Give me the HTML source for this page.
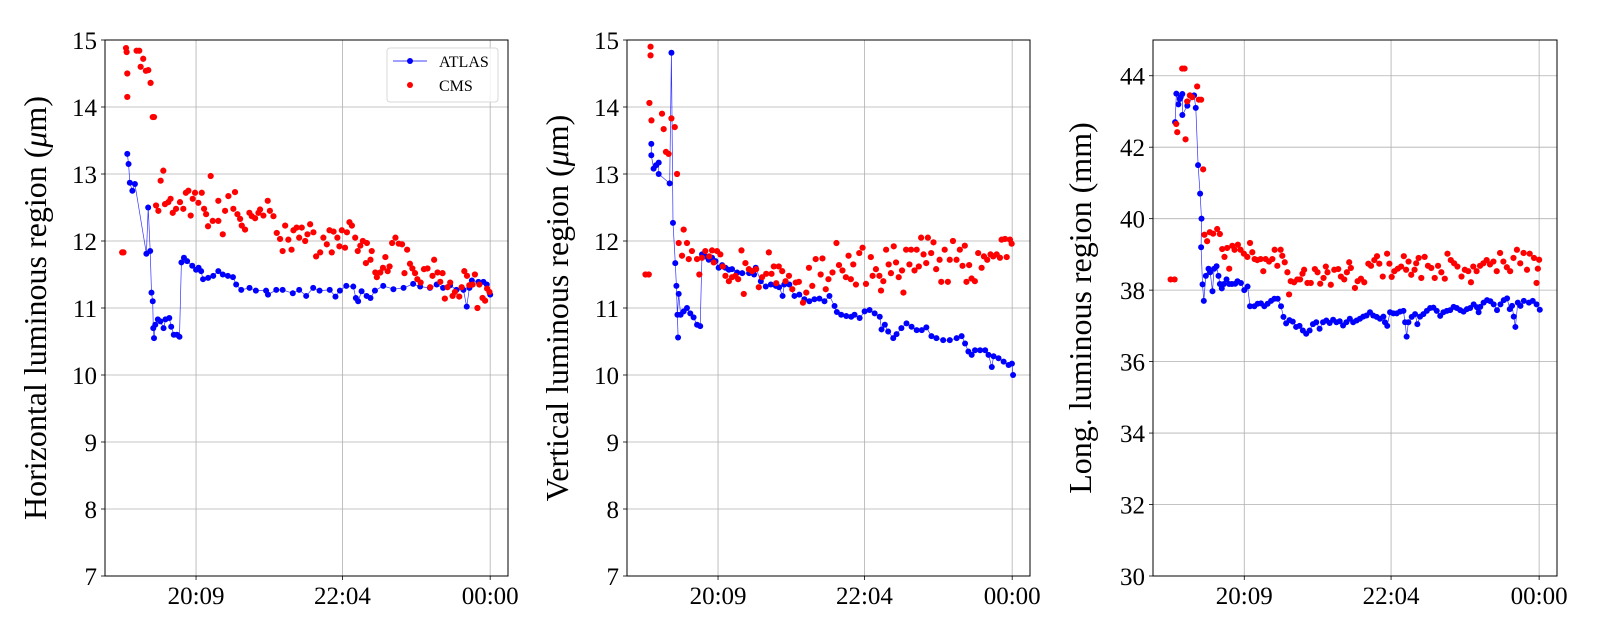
<!DOCTYPE html>
<html><head><meta charset="utf-8"><style>
html,body{margin:0;padding:0;background:#fff;}
svg{display:block;font-family:"Liberation Serif",serif;}
</style></head><body>
<svg id="chart" width="1600" height="640" viewBox="0 0 1600 640" xmlns="http://www.w3.org/2000/svg"></svg>
<script>
// Time in minutes relative to 20:09
const xTickLabels = ["20:09","22:04","00:00"];
const xTickTimes = [0,115,231];
const p1YTicks = [7,8,9,10,11,12,13,14,15];
const p3YTicks = [30,32,34,36,38,40,42,44];

const p1AtlasT = [-54,-53,-52,-50,-48,-39,-37.6,-36,-35,-34,-33.6,-33,-32,-30,-28,-25.5,-24,-21,-19.5,-17.5,-15,-13,-11.5,-9.5,-7,-3,0,2,4,5.5,9.5,13.5,17.5,21,25,29,31.5,35.5,42,47,55,56.5,63,68,76,81,86.5,92,97,105,109.5,113,118,123.5,125.5,127.3,130,134,137,140.5,147,155,163,170.5,176,183.7,189,194,199.5,204.5,210,212.6,214.7,216.6,221.8,225.7,228.3,231];
const p1AtlasV = [13.3,13.15,12.87,12.75,12.85,11.81,12.5,11.85,11.23,11.1,10.7,10.55,10.75,10.83,10.8,10.7,10.83,10.85,10.72,10.6,10.6,10.57,11.68,11.75,11.7,11.63,11.57,11.6,11.55,11.43,11.45,11.48,11.55,11.5,11.48,11.46,11.35,11.27,11.3,11.26,11.26,11.2,11.27,11.27,11.22,11.27,11.18,11.3,11.26,11.27,11.17,11.26,11.33,11.32,11.15,11.1,11.25,11.18,11.15,11.26,11.33,11.28,11.3,11.36,11.32,11.3,11.35,11.3,11.34,11.27,11.27,11.02,11.3,11.41,11.39,11.39,11.35,11.2];
const p1CmsT = [-58,-57,-55,-54.5,-54,-54,-46.7,-44.6,-43.5,-41.5,-39.4,-37.5,-35.7,-34,-33,-31.4,-29.6,-27.8,-25.7,-24.4,-21.8,-20,-18.3,-15.7,-12.6,-10,-8,-6,-4.2,-2.6,-0.8,1.8,4.5,6.3,7.9,9.4,11.5,13.1,17.5,17.5,21,22.8,25.4,29.3,30.6,32.5,34.6,35.9,38.5,41.9,43.8,46.4,49,50.3,52.9,56.3,58,60.8,63.4,66,68,70,72.5,75,76.5,79,81,83,85.7,87.5,89.6,92.2,94.3,97.5,100,102.7,104.8,106.6,108,111,112.6,114.5,117,118.5,120.5,122.4,125,127,129,131,134.2,133.4,137,138,140.8,142,144.7,146.8,148.7,150.5,152,154,156.6,159.2,161.8,163.7,165.8,168,169.9,172,173.8,176.4,179,181.8,183.9,185.7,187,189.7,191.8,193.6,195.4,197.5,199.6,201.5,203.3,206.7,208.6,210.7,212.8,214.6,217.2,219,221,222.5,225,227,228.6,230.4];
const p1CmsV = [11.83,11.83,14.88,14.82,14.5,14.15,14.84,14.84,14.6,14.72,14.54,14.55,14.36,13.85,13.85,12.53,12.45,12.9,13.05,12.55,12.58,12.63,12.42,12.48,12.58,12.48,12.72,12.75,12.38,12.63,12.72,12.57,12.72,12.48,12.4,12.22,12.97,12.3,12.3,12.6,12.1,12.45,12.67,12.48,12.73,12.4,12.33,12.23,12.17,12.42,12.37,12.34,12.42,12.47,12.38,12.6,12.45,12.37,12.12,12.03,11.85,12.23,12.02,11.87,12.16,12.2,12.05,12.2,12.0,12.1,12.25,12.13,11.77,11.83,12.05,11.95,12.16,11.83,12.14,12.05,11.92,12.16,11.9,12.13,12.28,12.23,12.05,11.85,11.93,12.0,11.97,11.67,11.72,11.85,11.53,11.46,11.53,11.6,11.76,11.55,11.62,11.97,12.05,11.96,11.95,11.52,11.87,11.66,11.59,11.52,11.43,11.38,11.58,11.59,11.31,11.48,11.72,11.53,11.39,11.52,11.14,11.31,11.38,11.18,11.24,11.17,11.31,11.55,11.48,11.34,11.35,11.5,11.0,11.35,11.15,11.11,11.29,11.24];

const p2AtlasT = [-52.4,-52.4,-50.6,-48.7,-46.6,-46.6,-38,-36.6,-35.4,-33.6,-32.7,-31.4,-31.9,-30.9,-29.4,-27,-24.4,-21.8,-19.2,-16.5,-14,-12.6,-10,-7.3,-4.7,-2,0.5,3.2,5.8,8.5,11,15,19,24.4,28.3,29.6,33.6,37.5,41.5,45.4,48,50.7,52,56,60,63.8,67.8,71.7,75.7,79.6,83.6,87.5,91.5,93.3,96.7,100.7,104.6,107.2,111.2,115.1,119,123,127,128.4,131,133.6,137.6,140.2,144,148,152,156,160,163.6,167.6,171.5,176.8,182,187.4,191.3,194,196.6,199.2,201.8,205.8,209.8,212.4,215,216.4,220.3,224.3,228.2,230.8,231.7];
const p2AtlasV = [13.45,13.28,13.08,13.13,13.17,13.0,12.86,14.81,12.27,11.67,11.33,10.56,10.9,11.21,10.9,10.95,11.0,10.92,10.86,10.75,10.73,11.8,11.77,11.72,11.75,11.7,11.6,11.64,11.6,11.57,11.58,11.53,11.52,11.52,11.5,11.6,11.4,11.32,11.35,11.33,11.31,11.18,11.35,11.35,11.18,11.2,11.13,11.1,11.13,11.14,11.1,11.18,11.03,10.94,10.9,10.88,10.87,10.9,10.85,10.95,10.97,10.92,10.87,10.68,10.75,10.65,10.55,10.61,10.7,10.77,10.72,10.67,10.67,10.71,10.58,10.55,10.52,10.52,10.55,10.58,10.47,10.35,10.3,10.37,10.37,10.37,10.3,10.12,10.28,10.25,10.2,10.15,10.17,10.0];
const p2CmsT = [-57,-54.4,-53.9,-53,-53,-52.3,-44,-42.7,-40.9,-38.8,-36.6,-34,-32.2,-30.9,-27,-28.3,-24.4,-23,-20.5,-16.5,-14.7,-12.6,-10,-6.9,-4.7,-3.4,-0.8,1.8,3.7,5.8,8.5,11,13.7,15.8,18.4,20.2,21.5,24.2,26.8,29.9,32,34.6,37.8,39.9,42,43.8,45.7,47.7,50.4,53,55.7,58.3,61,63.5,66.7,69.3,71.4,74,76.7,80.6,82,84.6,86.7,89.9,93,95,97.7,100.4,102.5,104.3,106.2,108.3,110.9,113.5,116.2,120,121.4,124,126.7,128,129.8,132,134,135.8,138,139.8,141.9,144.5,145.6,147.7,150.3,151.6,154.3,156,157.7,159.5,161.4,163.5,164.8,167.4,169.2,171.3,174,175.3,178,180.5,182,184.5,187.3,189.9,192,193.8,195.1,197.2,199.1,201.7,204.3,207,208.8,211.4,214,216.1,218.8,221.4,222.7,225.4,226.7,229.3,230.6];
const p2CmsV = [11.5,11.5,14.06,14.9,14.77,13.8,13.9,13.67,13.33,13.3,13.83,13.7,13.0,11.97,12.17,11.78,11.97,11.73,11.85,11.73,11.5,11.75,11.85,11.77,11.86,11.68,11.85,11.8,11.62,11.48,11.4,11.46,11.48,11.43,11.86,11.21,11.67,11.58,11.55,11.58,11.31,11.46,11.51,11.83,11.51,11.62,11.37,11.62,11.55,11.4,11.48,11.28,11.38,11.39,11.08,11.23,11.6,11.33,11.73,11.5,11.74,11.28,11.43,11.53,11.97,11.64,11.56,11.46,11.78,11.43,11.65,11.35,11.82,11.9,11.36,11.76,11.48,11.58,11.48,11.26,11.4,11.87,11.65,11.52,11.92,11.68,11.46,11.56,11.23,11.87,11.65,11.87,11.56,11.87,11.62,12.05,11.8,11.67,12.05,11.82,11.98,11.58,11.72,11.39,11.87,11.39,11.72,12.0,11.72,11.87,11.63,11.93,11.39,11.64,11.44,11.4,11.82,11.6,11.77,11.72,11.8,11.77,11.8,11.75,12.02,12.03,11.76,12.02,11.96];

const p3AtlasT = [-54.2,-53.2,-51.6,-50.5,-49.8,-48.5,-48.5,-44.6,-39.3,-38,-36.2,-34.6,-33.5,-33.8,-32.7,-31.7,-30.1,-28,-26.7,-24.9,-23.6,-21.7,-20.2,-19.1,-17.6,-16,-13.9,-11.8,-9.7,-7.1,-5.3,-2.6,0,2.6,4.5,7.9,10.5,13.1,15.7,18.3,21,23.6,26.2,28.8,30.7,32.8,35.4,38,40.6,43.3,45.9,48.5,51.2,53.8,56.4,59,61.7,64.3,66.9,69.6,72.2,74.8,77.4,80,82.7,85.3,88,90.6,93.2,95.8,98.5,101,103.7,106.3,109,110.2,112,114.2,116.8,119.4,122,124.7,126,127.2,128.6,131.2,133.8,135.6,137.7,140.3,143,145.6,148.2,150.8,153.5,156,158.7,161.3,164,166.5,169.2,171.8,174.4,177,179.7,182.3,183.6,184.9,187.5,190.2,192.8,195.4,198,200.7,203.3,205.9,208,209.8,211.1,212.4,214.3,216.4,219,223,226,229,231.5];
const p3AtlasV = [42.7,43.5,43.2,43.35,43.4,43.49,42.9,43.16,43.45,43.1,41.5,40.7,40.0,39.2,38.16,37.7,38.4,38.6,38.5,37.97,38.6,38.67,38.4,38.17,38.05,38.17,38.3,38.17,38.17,38.18,38.25,38.2,38.0,38.1,37.55,37.55,37.62,37.63,37.55,37.62,37.7,37.76,37.76,37.55,37.25,37.07,37.16,37.12,36.97,37.0,36.87,36.78,36.87,37.05,37.1,36.92,37.1,37.15,37.08,37.17,37.1,37.13,37.01,37.1,37.2,37.1,37.15,37.2,37.26,37.29,37.38,37.29,37.25,37.2,37.26,37.1,37.0,37.38,37.35,37.35,37.4,37.42,37.1,36.7,37.1,37.25,37.33,37.05,37.26,37.33,37.42,37.5,37.51,37.42,37.28,37.38,37.42,37.44,37.53,37.5,37.44,37.4,37.47,37.5,37.6,37.52,37.38,37.53,37.65,37.72,37.69,37.6,37.44,37.6,37.72,37.77,37.47,37.56,37.26,36.97,37.65,37.56,37.7,37.65,37.7,37.6,37.45];
const p3CmsT = [-57.7,-54.6,-53.3,-52.5,-48.6,-46.8,-46,-44.7,-42.6,-40.8,-36.9,-35.6,-33.8,-32.2,-31.2,-29.1,-27,-24.4,-21.2,-19.1,-17.3,-15.5,-13.4,-11.8,-9.4,-7.6,-5,-2.9,-0.3,2.4,4.5,6.3,8.1,10.2,12.8,14.9,16.7,19.4,22,23.8,25.9,28.5,29.8,31.7,33.8,35.1,36.4,39,41.6,43.7,45.6,46.9,49.5,52.1,55.3,57.4,59.5,62.1,63.9,65.2,67.8,70.5,73.6,75.7,78.3,80.4,82.2,83.5,86.7,88.8,91.4,94,97.2,99.3,101.9,104,105.8,108.5,111.9,113.7,115.5,117.6,120.3,122.9,125,126.8,128.7,130.8,133.4,134.7,136.6,138.7,141.3,143.9,146.5,149.2,151.8,154.4,157.1,159.2,161.8,164.4,167,170.2,172.8,175.5,177.6,179.4,182,184.7,187.3,189.9,192.5,195.2,197.8,200.4,203,205.7,208.3,210.9,213.6,216.2,218.8,221.5,223.6,227,229,230,231];
const p3CmsV = [38.3,38.3,42.65,42.42,44.2,44.2,42.22,43.28,43.45,43.4,43.7,43.33,43.33,41.38,39.55,39.37,39.62,39.58,39.71,39.57,39.15,38.93,39.18,38.6,39.24,39.13,39.27,39.13,39.02,38.93,39.32,39.06,38.87,38.84,38.87,38.53,38.87,38.8,38.87,39.13,38.68,39.13,38.96,38.78,38.5,37.88,38.25,38.22,38.3,38.3,38.46,38.57,38.2,38.2,38.59,38.5,38.18,38.34,38.66,38.5,38.15,38.57,38.59,38.38,38.3,38.5,38.78,38.62,38.06,38.25,38.32,38.22,38.74,38.68,38.84,38.95,38.74,38.38,39.02,38.74,38.37,38.53,38.6,38.66,38.95,38.57,38.8,38.43,38.57,38.75,38.9,38.34,38.93,38.68,38.62,38.34,38.68,38.5,38.32,39.02,38.84,38.75,38.66,38.38,38.57,38.53,38.22,38.66,38.53,38.68,38.75,38.84,38.72,38.8,38.53,39.04,38.8,38.64,38.53,38.9,39.13,38.75,39.04,38.57,39.02,38.9,38.2,38.6,38.85];

const NS = "http://www.w3.org/2000/svg";
const svg = document.getElementById("chart");
function mk(tag, attrs, parent) {
  const e = document.createElementNS(NS, tag);
  for (const k in attrs) e.setAttribute(k, attrs[k]);
  (parent || svg).appendChild(e);
  return e;
}
const TOP = 40, BOTTOM = 576, TMIN = -71.5, TMAX = 245;

function panel(name, left, width, yMin, yMax, yTicks, title, unitItalic, unitAfter, titleX, atlasT, atlasV, cmsT, cmsV, legend) {
  const g = mk("g", {});
  
  
  const xs = t => left + (t - TMIN) / (TMAX - TMIN) * width;
  const ys = v => BOTTOM - (v - yMin) / (yMax - yMin) * (BOTTOM - TOP);
  yTicks.forEach(v => {
    const y = ys(v);
    const l = mk("line", {x1: left, x2: left + width, y1: y, y2: y, stroke: "#b0b0b0", "stroke-width": 0.8}, g);
    
    
    mk("line", {x1: left - 4, x2: left, y1: y, y2: y, stroke: "#000", "stroke-width": 0.8}, g);
    const t = mk("text", {x: left - 8, y: y + 9, "text-anchor": "end", "font-size": 25, fill: "#000"}, g);
    t.textContent = v;
    
    
  });
  xTickTimes.forEach((tt, i) => {
    const x = xs(tt);
    const l = mk("line", {x1: x, x2: x, y1: TOP, y2: BOTTOM, stroke: "#b0b0b0", "stroke-width": 0.8}, g);
    
    
    mk("line", {x1: x, x2: x, y1: BOTTOM, y2: BOTTOM + 4, stroke: "#000", "stroke-width": 0.8}, g);
    const t = mk("text", {x: x, y: BOTTOM + 28, "text-anchor": "middle", "font-size": 25, fill: "#000"}, g);
    t.textContent = xTickLabels[i];
    
    
  });
  const pts = atlasT.map((t, i) => xs(t).toFixed(1) + "," + ys(atlasV[i]).toFixed(1)).join(" ");
  const pl = mk("polyline", {points: pts, fill: "none", stroke: "#0000ff", "stroke-width": 0.7, "stroke-opacity": 0.8}, g);
  
  
  atlasT.forEach((t, i) => {
    const c = mk("circle", {cx: xs(t), cy: ys(atlasV[i]), r: 3, fill: "#0000ff"}, g);
    
    
  });
  cmsT.forEach((t, i) => {
    const c = mk("circle", {cx: xs(t), cy: ys(cmsV[i]), r: 3.1, fill: "#ff0000"}, g);
    
    
  });
  const frame = mk("rect", {x: left, y: TOP, width: width, height: BOTTOM - TOP, fill: "none", stroke: "#000", "stroke-width": 1}, g);
  
  
  const cy = (TOP + BOTTOM) / 2;
  const ttl = mk("text", {x: titleX, y: cy, "text-anchor": "middle", "font-size": 32, fill: "#000", transform: "rotate(-90 " + titleX + " " + cy + ")"}, g);
  
  
  ttl.appendChild(document.createTextNode(title));
  if (unitItalic) {
    const ts = mk("tspan", {"font-style": "italic"}, ttl);
    ts.textContent = unitItalic;
    ttl.appendChild(document.createTextNode(unitAfter));
  }
  if (legend) {
    const lg = mk("g", {}, g);
    
    
    mk("rect", {x: 387, y: 48, width: 111, height: 54, rx: 3, fill: "#fff", "fill-opacity": 0.8, stroke: "#d8d8d8", "stroke-width": 1}, lg);
    const e1 = mk("g", {}, lg);
    
    
    mk("line", {x1: 393, x2: 427, y1: 61, y2: 61, stroke: "#0000ff", "stroke-width": 0.8}, e1);
    mk("circle", {cx: 410, cy: 61, r: 3, fill: "#0000ff"}, e1);
    const t1 = mk("text", {x: 439, y: 67, "font-size": 16, fill: "#000"}, e1);
    t1.textContent = "ATLAS";
    const e2 = mk("g", {}, lg);
    
    
    mk("circle", {cx: 410, cy: 85, r: 3, fill: "#ff0000"}, e2);
    const t2 = mk("text", {x: 439, y: 91, "font-size": 16, fill: "#000"}, e2);
    t2.textContent = "CMS";
  }
}
panel("horizontal", 105, 403, 7, 15, p1YTicks, "Horizontal luminous region (", "μ", "m)", 46, p1AtlasT, p1AtlasV, p1CmsT, p1CmsV, true);
panel("vertical", 627, 403, 7, 15, p1YTicks, "Vertical luminous region (", "μ", "m)", 568, p2AtlasT, p2AtlasV, p2CmsT, p2CmsV, false);
panel("longitudinal", 1153, 404, 30, 45, p3YTicks, "Long. luminous region (mm)", null, null, 1091, p3AtlasT, p3AtlasV, p3CmsT, p3CmsV, false);
</script>
</body></html>
